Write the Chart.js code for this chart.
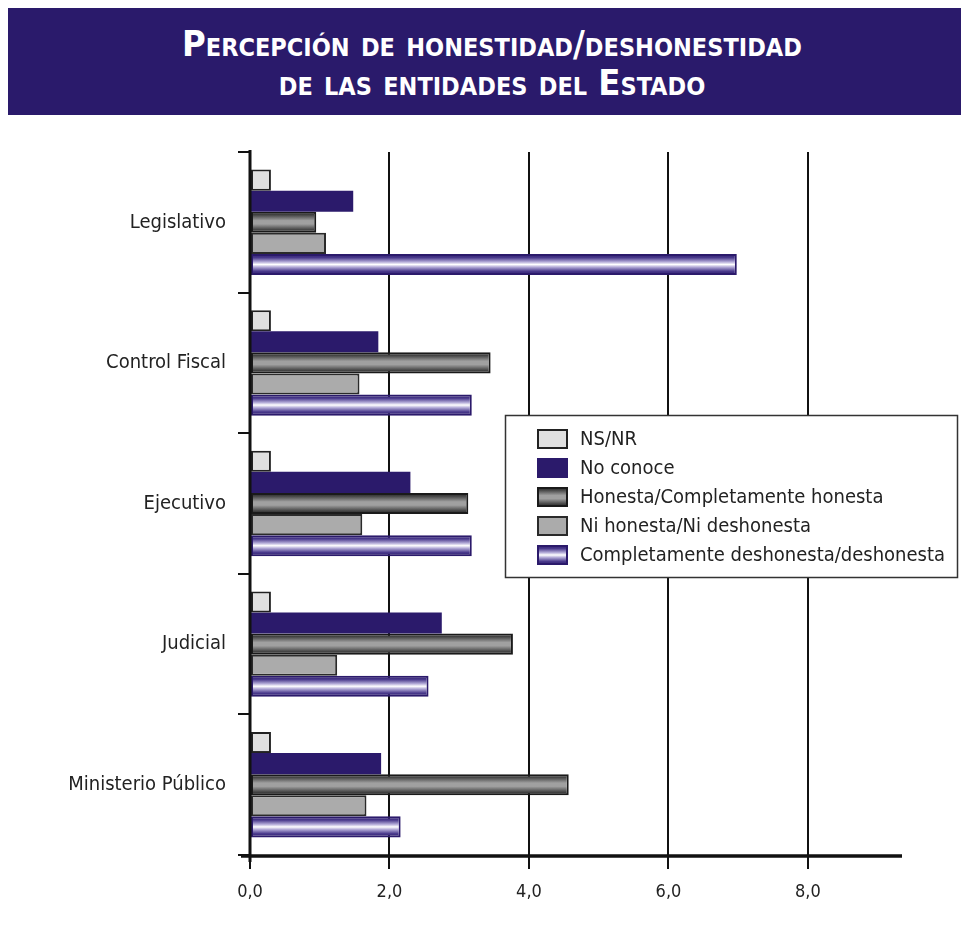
<!DOCTYPE html>
<html><head><meta charset="utf-8">
<script src="https://cdn.jsdelivr.net/npm/chart.js@4"></script>
<style>
html,body{margin:0;padding:0;background:#fff;}
#wrap{position:relative;width:961px;height:932px;overflow:hidden;}
#title{position:absolute;left:8px;top:8px;width:953px;height:107px;background:#2a1a6b;color:#fff;
 font-family:"DejaVu Sans Condensed","Liberation Sans Narrow",sans-serif;font-weight:bold;font-variant:small-caps;
 font-size:36px;line-height:39px;text-align:center;box-sizing:border-box;padding-top:16px;padding-left:15px;}
canvas{position:absolute;left:0;top:0;}
</style></head>
<body><div id="wrap"><canvas id="c" width="961" height="932"></canvas>
<div id="title">Percepción de honestidad/deshonestidad<br>de las entidades del Estado</div></div>
<script>
const categories = ["Legislativo", "Control Fiscal", "Ejecutivo", "Judicial", "Ministerio Público"];
const seriesNames = ["NS/NR", "No conoce", "Honesta/Completamente honesta", "Ni honesta/Ni deshonesta", "Completamente deshonesta/deshonesta"];
const nsnr       = [0.30, 0.30, 0.30, 0.30, 0.30];
const noConoce   = [1.48, 1.84, 2.30, 2.75, 1.88];
const honesta    = [0.95, 3.45, 3.13, 3.77, 4.57];
const niNi       = [1.09, 1.57, 1.61, 1.25, 1.67];
const deshonesta = [6.98, 3.18, 3.18, 2.56, 2.16];
const xTicks = [0, 2, 4, 6, 8];
const xMax = 9.32;

const FONT = '"DejaVu Sans Condensed","Liberation Sans Narrow",sans-serif';
const greyStops = [[0,'#222222'],[0.15,'#444444'],[0.42,'#a0a0a0'],[0.58,'#a0a0a0'],[0.85,'#444444'],[1,'#222222']];
const purpleStops = [[0,'#2b1a6b'],[0.18,'#4a3a8c'],[0.38,'#b4acd8'],[0.5,'#ffffff'],[0.62,'#b4acd8'],[0.82,'#4a3a8c'],[1,'#2b1a6b']];
const styles = [
  {fill:'#e0e0e0', border:'#222222', bw:2},
  {fill:'#2b1a6b', border:'#2b1a6b', bw:0},
  {grad:greyStops, border:'#1a1a1a', bw:2},
  {fill:'#ababab', border:'#2a2a2a', bw:2},
  {grad:purpleStops, border:'#2b1a6b', bw:2}
];
const seriesValues = [nsnr, noConoce, honesta, niNi, deshonesta];

function vGrad(stops){
  return function(ctx){
    if (ctx.type !== 'data') return stops[Math.floor(stops.length/2)][1];
    const chart = ctx.chart;
    const el = chart.getDatasetMeta(ctx.datasetIndex).data[ctx.dataIndex];
    if (!el || el.y == null || !el.height) return stops[0][1];
    const g = chart.ctx.createLinearGradient(0, el.y - el.height/2, 0, el.y + el.height/2);
    stops.forEach(s => g.addColorStop(s[0], s[1]));
    return g;
  };
}

const datasets = seriesNames.map((name, i) => {
  const st = styles[i];
  return {
    label: name,
    data: seriesValues[i],
    backgroundColor: st.grad ? vGrad(st.grad) : st.fill,
    borderColor: st.border,
    borderWidth: st.bw,
    borderSkipped: false,
    categoryPercentage: 0.75,
    barPercentage: 1.0
  };
});

const axesPlugin = {
  id: 'axesLines',
  afterDatasetsDraw(chart){
    const c = chart.ctx, a = chart.chartArea;
    c.save();
    c.strokeStyle = '#111';
    c.lineWidth = 3;
    c.beginPath(); c.moveTo(a.left, a.top - 2); c.lineTo(a.left, a.bottom + 7); c.stroke();
    c.lineWidth = 3.5;
    c.beginPath(); c.moveTo(a.left - 9, a.bottom + 1); c.lineTo(a.right + 2, a.bottom + 1); c.stroke();
    c.restore();
  }
};

const legendPlugin = {
  id: 'boxLegend',
  afterDraw(chart){
    const c = chart.ctx;
    const bx = 505, by = 415, bw = 453, bh = 163;
    c.save();
    c.fillStyle = '#fff'; c.fillRect(bx, by, bw, bh);
    c.strokeStyle = '#333'; c.lineWidth = 1.5; c.strokeRect(bx + 0.5, by + 0.5, bw - 1, bh - 1);
    c.font = '20px ' + FONT;
    c.textBaseline = 'middle';
    seriesNames.forEach((name, i) => {
      const cy = 439 + i * 29;
      const x = 537, y = cy - 10, w = 31, h = 20;
      const st = styles[i];
      if (st.grad){
        const g = c.createLinearGradient(0, y, 0, y + h);
        st.grad.forEach(s => g.addColorStop(s[0], s[1]));
        c.fillStyle = g;
      } else c.fillStyle = st.fill;
      c.fillRect(x, y, w, h);
      if (st.bw){
        c.strokeStyle = st.border; c.lineWidth = st.bw;
        c.strokeRect(x + st.bw/2, y + st.bw/2, w - st.bw, h - st.bw);
      }
      c.fillStyle = '#222';
      c.fillText(name, 580, cy + 1);
    });
    c.restore();
  }
};

const chart = new Chart(document.getElementById('c'), {
  type: 'bar',
  data: { labels: categories, datasets },
  options: {
    indexAxis: 'y',
    responsive: false,
    animation: false,
    layout: { padding: { top: 152, right: 61, left: 0, bottom: 0 } },
    plugins: { legend: { display: false }, tooltip: { enabled: false }, title: { display: false } },
    scales: {
      x: {
        min: 0, max: xMax,
        afterBuildTicks: s => { s.ticks = xTicks.map(v => ({ value: v })); },
        afterFit: s => { s.height = 77; },
        border: { display: false },
        grid: { color: '#111', lineWidth: 2, tickLength: 14, drawOnChartArea: true },
        ticks: {
          font: { family: FONT, size: 18 }, color: '#222', padding: 13,
          callback: v => v.toFixed(1).replace('.', ',')
        }
      },
      y: {
        afterFit: s => { s.width = 250; },
        border: { display: false },
        grid: { offset: true, drawOnChartArea: false, color: '#111', lineWidth: 2, tickLength: 12 },
        ticks: { font: { family: FONT, size: 20 }, color: '#222', padding: 12 }
      }
    }
  },
  plugins: [axesPlugin, legendPlugin]
});
chart.update('none');
</script>
</body></html>
